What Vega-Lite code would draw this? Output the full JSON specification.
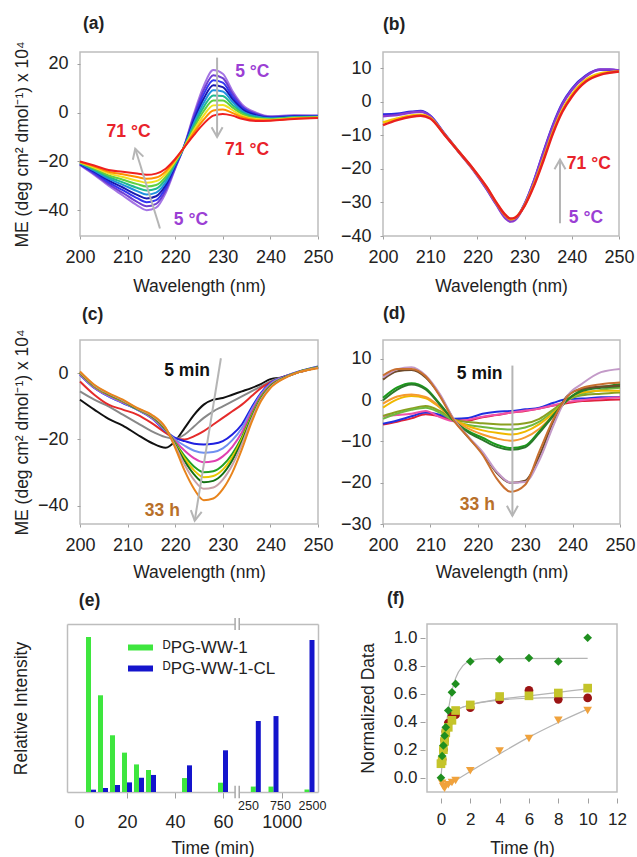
{
"$schema": "https://vega.github.io/schema/vega-lite/v6.json",
"autosize": {"type": "none"},
"padding": {"left": 80, "top": 52, "right": 557, "bottom": 805},
"config": {
  "font": "Liberation Sans",
  "view": {"stroke": "#bdbdbd", "strokeWidth": 1.5},
  "axis": {"grid": false, "domain": false, "tickColor": "#a0a0a0", "tickWidth": 1, "tickSize": 3, "labelFont": "Liberation Sans", "labelFontSize": 18, "labelColor": "#222222", "labelPadding": 9.5, "titleFont": "Liberation Sans", "titleFontSize": 17.5, "titleFontWeight": "normal", "titleColor": "#222222", "labelOverlap": false, "labelFlush": false},
  "axisY": {"labelPadding": 9},
  "line": {"strokeWidth": 2, "interpolate": "monotone"},
  "text": {"font": "Liberation Sans", "fontSize": 17.5, "fontWeight": "bold", "baseline": "middle", "align": "center"}
},
"spacing": 7,
"resolve": {"scale": {"color": "independent", "shape": "independent"}},
"vconcat": [
{"hconcat": [
 {
  "width": 238, "height": 184,
  "encoding": {
    "x": {"field": "w", "type": "quantitative", "scale": {"domain": [200, 250], "nice": false, "zero": false}, "axis": {"values": [200,210,220,230,240,250], "title": "Wavelength (nm)", "titleX": 119, "titleY": 55.3, "titleBaseline": "alphabetic", "titleAlign": "center"}},
    "y": {"field": "v", "type": "quantitative", "scale": {"domain": [-50.6, 24.9], "nice": false, "zero": false}, "axis": {"values": [-40,-20,0,20], "title": "ME (deg cm² dmol⁻¹) x 10⁴", "titleX": -53, "titleY": 92, "titleBaseline": "alphabetic", "titleAlign": "center", "titleAngle": 270}}
  },
  "layer": [
   {"data": {"values": [
{"c":"k0","w":200,"v":-21.5},{"c":"k0","w":203,"v":-25.5},{"c":"k0","w":206,"v":-30},{"c":"k0","w":209,"v":-34},{"c":"k0","w":212,"v":-38},{"c":"k0","w":214,"v":-40},{"c":"k0","w":216,"v":-39},{"c":"k0","w":218,"v":-33},{"c":"k0","w":220,"v":-23},{"c":"k0","w":222,"v":-13},{"c":"k0","w":224,"v":0},{"c":"k0","w":226,"v":11},{"c":"k0","w":228,"v":17.5},{"c":"k0","w":230,"v":16},{"c":"k0","w":232,"v":9},{"c":"k0","w":234,"v":3.5},{"c":"k0","w":237,"v":0},{"c":"k0","w":240,"v":-1.5},{"c":"k0","w":245,"v":-1.1},{"c":"k0","w":250,"v":-1.2},
{"c":"k1","w":200,"v":-21.3},{"c":"k1","w":203,"v":-25.1},{"c":"k1","w":206,"v":-29.3},{"c":"k1","w":209,"v":-32.9},{"c":"k1","w":212,"v":-36.6},{"c":"k1","w":214,"v":-38.4},{"c":"k1","w":216,"v":-37.4},{"c":"k1","w":218,"v":-31.9},{"c":"k1","w":220,"v":-22.6},{"c":"k1","w":222,"v":-13.1},{"c":"k1","w":224,"v":-1},{"c":"k1","w":226,"v":9.3},{"c":"k1","w":228,"v":15.4},{"c":"k1","w":230,"v":14.2},{"c":"k1","w":232,"v":7.9},{"c":"k1","w":234,"v":2.8},{"c":"k1","w":237,"v":-0.4},{"c":"k1","w":240,"v":-1.7},{"c":"k1","w":245,"v":-1.3},{"c":"k1","w":250,"v":-1.3},
{"c":"k2","w":200,"v":-21.2},{"c":"k2","w":203,"v":-24.7},{"c":"k2","w":206,"v":-28.6},{"c":"k2","w":209,"v":-31.8},{"c":"k2","w":212,"v":-35.1},{"c":"k2","w":214,"v":-36.8},{"c":"k2","w":216,"v":-35.9},{"c":"k2","w":218,"v":-30.8},{"c":"k2","w":220,"v":-22.1},{"c":"k2","w":222,"v":-13.2},{"c":"k2","w":224,"v":-2},{"c":"k2","w":226,"v":7.6},{"c":"k2","w":228,"v":13.3},{"c":"k2","w":230,"v":12.3},{"c":"k2","w":232,"v":6.7},{"c":"k2","w":234,"v":2.2},{"c":"k2","w":237,"v":-0.8},{"c":"k2","w":240,"v":-1.9},{"c":"k2","w":245,"v":-1.4},{"c":"k2","w":250,"v":-1.4},
{"c":"k3","w":200,"v":-21.0},{"c":"k3","w":203,"v":-24.2},{"c":"k3","w":206,"v":-27.8},{"c":"k3","w":209,"v":-30.7},{"c":"k3","w":212,"v":-33.7},{"c":"k3","w":214,"v":-35.2},{"c":"k3","w":216,"v":-34.3},{"c":"k3","w":218,"v":-29.7},{"c":"k3","w":220,"v":-21.7},{"c":"k3","w":222,"v":-13.3},{"c":"k3","w":224,"v":-3},{"c":"k3","w":226,"v":5.8},{"c":"k3","w":228,"v":11.3},{"c":"k3","w":230,"v":10.5},{"c":"k3","w":232,"v":5.6},{"c":"k3","w":234,"v":1.5},{"c":"k3","w":237,"v":-1.1},{"c":"k3","w":240,"v":-2.1},{"c":"k3","w":245,"v":-1.6},{"c":"k3","w":250,"v":-1.5},
{"c":"k4","w":200,"v":-20.8},{"c":"k4","w":203,"v":-23.8},{"c":"k4","w":206,"v":-27.1},{"c":"k4","w":209,"v":-29.6},{"c":"k4","w":212,"v":-32.2},{"c":"k4","w":214,"v":-33.6},{"c":"k4","w":216,"v":-32.8},{"c":"k4","w":218,"v":-28.6},{"c":"k4","w":220,"v":-21.2},{"c":"k4","w":222,"v":-13.4},{"c":"k4","w":224,"v":-4},{"c":"k4","w":226,"v":4.1},{"c":"k4","w":228,"v":9.2},{"c":"k4","w":230,"v":8.7},{"c":"k4","w":232,"v":4.5},{"c":"k4","w":234,"v":0.8},{"c":"k4","w":237,"v":-1.5},{"c":"k4","w":240,"v":-2.3},{"c":"k4","w":245,"v":-1.8},{"c":"k4","w":250,"v":-1.6},
{"c":"k5","w":200,"v":-20.7},{"c":"k5","w":203,"v":-23.4},{"c":"k5","w":206,"v":-26.4},{"c":"k5","w":209,"v":-28.6},{"c":"k5","w":212,"v":-30.8},{"c":"k5","w":214,"v":-31.9},{"c":"k5","w":216,"v":-31.2},{"c":"k5","w":218,"v":-27.4},{"c":"k5","w":220,"v":-20.8},{"c":"k5","w":222,"v":-13.6},{"c":"k5","w":224,"v":-5},{"c":"k5","w":226,"v":2.4},{"c":"k5","w":228,"v":7.1},{"c":"k5","w":230,"v":6.8},{"c":"k5","w":232,"v":3.3},{"c":"k5","w":234,"v":0.2},{"c":"k5","w":237,"v":-1.9},{"c":"k5","w":240,"v":-2.5},{"c":"k5","w":245,"v":-1.9},{"c":"k5","w":250,"v":-1.8},
{"c":"k6","w":200,"v":-20.5},{"c":"k6","w":203,"v":-23.0},{"c":"k6","w":206,"v":-25.7},{"c":"k6","w":209,"v":-27.5},{"c":"k6","w":212,"v":-29.3},{"c":"k6","w":214,"v":-30.3},{"c":"k6","w":216,"v":-29.7},{"c":"k6","w":218,"v":-26.3},{"c":"k6","w":220,"v":-20.3},{"c":"k6","w":222,"v":-13.7},{"c":"k6","w":224,"v":-6},{"c":"k6","w":226,"v":0.7},{"c":"k6","w":228,"v":5.0},{"c":"k6","w":230,"v":5.0},{"c":"k6","w":232,"v":2.2},{"c":"k6","w":234,"v":-0.5},{"c":"k6","w":237,"v":-2.3},{"c":"k6","w":240,"v":-2.7},{"c":"k6","w":245,"v":-2.1},{"c":"k6","w":250,"v":-1.9},
{"c":"k7","w":200,"v":-20.3},{"c":"k7","w":203,"v":-22.5},{"c":"k7","w":206,"v":-24.9},{"c":"k7","w":209,"v":-26.4},{"c":"k7","w":212,"v":-27.9},{"c":"k7","w":214,"v":-28.7},{"c":"k7","w":216,"v":-28.1},{"c":"k7","w":218,"v":-25.2},{"c":"k7","w":220,"v":-19.9},{"c":"k7","w":222,"v":-13.8},{"c":"k7","w":224,"v":-7},{"c":"k7","w":226,"v":-1.1},{"c":"k7","w":228,"v":3.0},{"c":"k7","w":230,"v":3.2},{"c":"k7","w":232,"v":1.1},{"c":"k7","w":234,"v":-1.2},{"c":"k7","w":237,"v":-2.6},{"c":"k7","w":240,"v":-2.9},{"c":"k7","w":245,"v":-2.3},{"c":"k7","w":250,"v":-2.0},
{"c":"k8","w":200,"v":-20.2},{"c":"k8","w":203,"v":-22.1},{"c":"k8","w":206,"v":-24.2},{"c":"k8","w":209,"v":-25.3},{"c":"k8","w":212,"v":-26.4},{"c":"k8","w":214,"v":-27.1},{"c":"k8","w":216,"v":-26.6},{"c":"k8","w":218,"v":-24.1},{"c":"k8","w":220,"v":-19.4},{"c":"k8","w":222,"v":-13.9},{"c":"k8","w":224,"v":-8},{"c":"k8","w":226,"v":-2.8},{"c":"k8","w":228,"v":0.9},{"c":"k8","w":230,"v":1.3},{"c":"k8","w":232,"v":-0.1},{"c":"k8","w":234,"v":-1.8},{"c":"k8","w":237,"v":-3.0},{"c":"k8","w":240,"v":-3.1},{"c":"k8","w":245,"v":-2.4},{"c":"k8","w":250,"v":-2.1},
{"c":"k9","w":200,"v":-20.0},{"c":"k9","w":203,"v":-21.7},{"c":"k9","w":206,"v":-23.5},{"c":"k9","w":209,"v":-24.2},{"c":"k9","w":212,"v":-25.0},{"c":"k9","w":214,"v":-25.5},{"c":"k9","w":216,"v":-25.0},{"c":"k9","w":218,"v":-23.0},{"c":"k9","w":220,"v":-19.0},{"c":"k9","w":222,"v":-14.0},{"c":"k9","w":224,"v":-9},{"c":"k9","w":226,"v":-4.5},{"c":"k9","w":228,"v":-1.2},{"c":"k9","w":230,"v":-0.5},{"c":"k9","w":232,"v":-1.2},{"c":"k9","w":234,"v":-2.5},{"c":"k9","w":237,"v":-3.4},{"c":"k9","w":240,"v":-3.3},{"c":"k9","w":245,"v":-2.6},{"c":"k9","w":250,"v":-2.2}
   ]},
    "mark": {"type": "line"},
    "encoding": {"color": {"field": "c", "type": "nominal", "legend": null, "scale": {"domain": ["k0","k1","k2","k3","k4","k5","k6","k7","k8","k9"], "range": ["#a474e4","#6f3fd2","#3434f0","#1818b0","#2090e0","#20b890","#60d040","#f0e020","#ff9000","#ee2020"]}}}
   },
   {"data": {"values": [{"w":228.8,"v":22.6,"w2":228.8,"v2":-10},{"w":216.8,"v":-47.5,"w2":211.6,"v2":-14.8}]},
    "mark": {"type": "rule", "color": "#b5b5b5", "strokeWidth": 2},
    "encoding": {"x2": {"field": "w2"}, "y2": {"field": "v2"}}},
   {"data": {"values": [{"w":228.8,"v":-10}]},
    "mark": {"type": "point", "shape": "M-1,1.8L0,0L1,1.8", "size": 121, "filled": false, "color": "#b5b5b5", "strokeWidth": 2, "opacity": 1, "angle": 180}},
   {"data": {"values": [{"w":211.6,"v":-14.8}]},
    "mark": {"type": "point", "shape": "M-1,1.8L0,0L1,1.8", "size": 121, "filled": false, "color": "#b5b5b5", "strokeWidth": 2, "opacity": 1, "angle": 343}},
   {"data": {"values": [{"w":236.2,"v":16.5,"t":"5 °C"},{"w":223.3,"v":-44,"t":"5 °C"}]},
    "mark": {"type": "text", "color": "#9b3fd4"}, "encoding": {"text": {"field": "t"}}},
   {"data": {"values": [{"w":210.2,"v":-8,"t":"71 °C"},{"w":235.1,"v":-15.5,"t":"71 °C"}]},
    "mark": {"type": "text", "color": "#e8232b"}, "encoding": {"text": {"field": "t"}}},
   {"data": {"values": [{"w":200.63,"v":34.2,"lab":"(a)"}]},
    "mark": {"type": "text", "color": "#222222", "align": "left", "baseline": "alphabetic"}, "encoding": {"text": {"field": "lab"}}}
  ]
 },
 {
  "width": 236, "height": 184,
  "encoding": {
    "x": {"field": "w", "type": "quantitative", "scale": {"domain": [200, 250], "nice": false, "zero": false}, "axis": {"values": [200,210,220,230,240,250], "title": "Wavelength (nm)", "titleX": 118, "titleY": 55.3, "titleBaseline": "alphabetic", "titleAlign": "center"}},
    "y": {"field": "v", "type": "quantitative", "scale": {"domain": [-40, 14.8], "nice": false, "zero": false}, "axis": {"values": [-40,-30,-20,-10,0,10], "title": null}}
  },
  "layer": [
   {"data": {"values": [
{"c":"b0","w":200,"v":-3.8},{"c":"b0","w":203,"v":-3.6},{"c":"b0","w":206,"v":-3.0},{"c":"b0","w":208,"v":-2.8},{"c":"b0","w":210,"v":-4.2},{"c":"b0","w":213,"v":-9.5},{"c":"b0","w":216,"v":-14.8},{"c":"b0","w":219,"v":-20.0},{"c":"b0","w":222,"v":-26.0},{"c":"b0","w":224,"v":-30.5},{"c":"b0","w":226,"v":-34.5},{"c":"b0","w":227,"v":-35.5},{"c":"b0","w":228,"v":-35.0},{"c":"b0","w":230,"v":-30.5},{"c":"b0","w":232,"v":-23.5},{"c":"b0","w":234,"v":-15.0},{"c":"b0","w":236,"v":-7.0},{"c":"b0","w":238,"v":-0.5},{"c":"b0","w":240,"v":3.8},{"c":"b0","w":243,"v":7.8},{"c":"b0","w":246,"v":9.5},{"c":"b0","w":248,"v":9.5},{"c":"b0","w":250,"v":9.2},
{"c":"b1","w":200,"v":-4.3},{"c":"b1","w":203,"v":-4.0},{"c":"b1","w":206,"v":-3.2},{"c":"b1","w":208,"v":-3.0},{"c":"b1","w":210,"v":-4.3},{"c":"b1","w":213,"v":-9.6},{"c":"b1","w":216,"v":-14.9},{"c":"b1","w":219,"v":-20.1},{"c":"b1","w":222,"v":-26.1},{"c":"b1","w":224,"v":-30.6},{"c":"b1","w":226,"v":-34.8},{"c":"b1","w":227,"v":-35.7},{"c":"b1","w":228,"v":-35.2},{"c":"b1","w":230,"v":-30.6},{"c":"b1","w":232,"v":-23.6},{"c":"b1","w":234,"v":-15.2},{"c":"b1","w":236,"v":-7.3},{"c":"b1","w":238,"v":-0.8},{"c":"b1","w":240,"v":3.5},{"c":"b1","w":243,"v":7.6},{"c":"b1","w":246,"v":9.6},{"c":"b1","w":248,"v":9.6},{"c":"b1","w":250,"v":9.3},
{"c":"b2","w":200,"v":-6.2},{"c":"b2","w":203,"v":-5.0},{"c":"b2","w":206,"v":-4.1},{"c":"b2","w":208,"v":-3.9},{"c":"b2","w":210,"v":-4.8},{"c":"b2","w":213,"v":-9.7},{"c":"b2","w":216,"v":-14.8},{"c":"b2","w":219,"v":-19.9},{"c":"b2","w":222,"v":-25.6},{"c":"b2","w":224,"v":-30.1},{"c":"b2","w":226,"v":-34.0},{"c":"b2","w":227,"v":-35.0},{"c":"b2","w":228,"v":-34.6},{"c":"b2","w":230,"v":-30.9},{"c":"b2","w":232,"v":-24.6},{"c":"b2","w":234,"v":-16.9},{"c":"b2","w":236,"v":-8.9},{"c":"b2","w":238,"v":-2.4},{"c":"b2","w":240,"v":2.1},{"c":"b2","w":243,"v":6.5},{"c":"b2","w":246,"v":8.4},{"c":"b2","w":248,"v":8.8},{"c":"b2","w":250,"v":9.0},
{"c":"b3","w":200,"v":-7.0},{"c":"b3","w":203,"v":-5.5},{"c":"b3","w":206,"v":-4.5},{"c":"b3","w":208,"v":-4.2},{"c":"b3","w":210,"v":-5.0},{"c":"b3","w":213,"v":-9.8},{"c":"b3","w":216,"v":-14.8},{"c":"b3","w":219,"v":-19.8},{"c":"b3","w":222,"v":-25.5},{"c":"b3","w":224,"v":-30.0},{"c":"b3","w":226,"v":-33.8},{"c":"b3","w":227,"v":-34.8},{"c":"b3","w":228,"v":-34.5},{"c":"b3","w":230,"v":-31.0},{"c":"b3","w":232,"v":-25.0},{"c":"b3","w":234,"v":-17.5},{"c":"b3","w":236,"v":-9.5},{"c":"b3","w":238,"v":-3.0},{"c":"b3","w":240,"v":1.5},{"c":"b3","w":243,"v":6.0},{"c":"b3","w":246,"v":8.0},{"c":"b3","w":248,"v":8.6},{"c":"b3","w":250,"v":9.0}
   ]},
    "mark": {"type": "line", "strokeWidth": 2.5},
    "encoding": {"color": {"field": "c", "type": "nominal", "legend": null, "scale": {"domain": ["b0","b1","b2","b3"], "range": ["#2a2ae0","#8a3ad0","#f5c800","#e82020"]}}}
   },
   {"data": {"values": [{"w":237.5,"v":-36.2,"w2":237.5,"v2":-17.2}]},
    "mark": {"type": "rule", "color": "#b5b5b5", "strokeWidth": 2},
    "encoding": {"x2": {"field": "w2"}, "y2": {"field": "v2"}}},
   {"data": {"values": [{"w":237.5,"v":-17.2}]},
    "mark": {"type": "point", "shape": "M-1,1.8L0,0L1,1.8", "size": 121, "filled": false, "color": "#b5b5b5", "strokeWidth": 2, "opacity": 1, "angle": 0}},
   {"data": {"values": [{"w":243.6,"v":-18.7,"t":"71 °C"}]},
    "mark": {"type": "text", "color": "#e8232b"}, "encoding": {"text": {"field": "t"}}},
   {"data": {"values": [{"w":243,"v":-34.7,"t":"5 °C"}]},
    "mark": {"type": "text", "color": "#9b3fd4"}, "encoding": {"text": {"field": "t"}}},
   {"data": {"values": [{"w":200,"v":21.35,"lab":"(b)"}]},
    "mark": {"type": "text", "color": "#222222", "align": "left", "baseline": "alphabetic"}, "encoding": {"text": {"field": "lab"}}}
  ]
 }
], "spacing": 65, "bounds": "flush", "resolve": {"scale": {"color": "independent"}}},
{"hconcat": [
 {
  "width": 238, "height": 184,
  "encoding": {
    "x": {"field": "w", "type": "quantitative", "scale": {"domain": [200, 250], "nice": false, "zero": false}, "axis": {"values": [200,210,220,230,240,250], "title": "Wavelength (nm)", "titleX": 119, "titleY": 53.5, "titleBaseline": "alphabetic", "titleAlign": "center"}},
    "y": {"field": "v", "type": "quantitative", "scale": {"domain": [-45.5, 10], "nice": false, "zero": false}, "axis": {"values": [-40,-20,0], "title": "ME (deg cm² dmol⁻¹) x 10⁴", "titleX": -53, "titleY": 92, "titleBaseline": "alphabetic", "titleAlign": "center", "titleAngle": 270}}
  },
  "layer": [
   {"data": {"values": [
{"c":"c00","w":200,"v":-8},{"c":"c00","w":203,"v":-11},{"c":"c00","w":206,"v":-13.8},{"c":"c00","w":209,"v":-15.8},{"c":"c00","w":212,"v":-18.5},{"c":"c00","w":215,"v":-21},{"c":"c00","w":218,"v":-22.5},{"c":"c00","w":220,"v":-20.5},{"c":"c00","w":222,"v":-16.5},{"c":"c00","w":224,"v":-12.5},{"c":"c00","w":226,"v":-9.5},{"c":"c00","w":228,"v":-8},{"c":"c00","w":230,"v":-7.5},{"c":"c00","w":232,"v":-6.5},{"c":"c00","w":234,"v":-5.5},{"c":"c00","w":236,"v":-4.5},{"c":"c00","w":238,"v":-3.3},{"c":"c00","w":240,"v":-1.8},{"c":"c00","w":243,"v":-1.2},{"c":"c00","w":246,"v":0.3},{"c":"c00","w":250,"v":1.8},
{"c":"c01","w":200,"v":-5.5},{"c":"c01","w":203,"v":-8},{"c":"c01","w":206,"v":-10},{"c":"c01","w":209,"v":-12.5},{"c":"c01","w":212,"v":-15},{"c":"c01","w":215,"v":-17.5},{"c":"c01","w":218,"v":-19.3},{"c":"c01","w":220,"v":-19.8},{"c":"c01","w":222,"v":-18.5},{"c":"c01","w":224,"v":-16},{"c":"c01","w":226,"v":-13.5},{"c":"c01","w":228,"v":-11.5},{"c":"c01","w":230,"v":-10},{"c":"c01","w":232,"v":-8.5},{"c":"c01","w":234,"v":-7},{"c":"c01","w":236,"v":-5.5},{"c":"c01","w":238,"v":-4},{"c":"c01","w":240,"v":-2.5},{"c":"c01","w":243,"v":-1},{"c":"c01","w":246,"v":0.3},{"c":"c01","w":250,"v":1.8},
{"c":"c02","w":200,"v":-2.5},{"c":"c02","w":203,"v":-6.5},{"c":"c02","w":206,"v":-9.5},{"c":"c02","w":209,"v":-11},{"c":"c02","w":212,"v":-12.5},{"c":"c02","w":215,"v":-15},{"c":"c02","w":218,"v":-18},{"c":"c02","w":220,"v":-19.8},{"c":"c02","w":222,"v":-20},{"c":"c02","w":224,"v":-19},{"c":"c02","w":226,"v":-17.5},{"c":"c02","w":228,"v":-15.5},{"c":"c02","w":230,"v":-13.5},{"c":"c02","w":232,"v":-11.5},{"c":"c02","w":234,"v":-9.5},{"c":"c02","w":236,"v":-7},{"c":"c02","w":238,"v":-4.5},{"c":"c02","w":240,"v":-2.8},{"c":"c02","w":243,"v":-1},{"c":"c02","w":246,"v":0.3},{"c":"c02","w":250,"v":1.8},
{"c":"c03","w":200,"v":-0.5},{"c":"c03","w":203,"v":-4.5},{"c":"c03","w":206,"v":-7},{"c":"c03","w":209,"v":-9},{"c":"c03","w":212,"v":-11},{"c":"c03","w":215,"v":-13.5},{"c":"c03","w":218,"v":-17.5},{"c":"c03","w":220,"v":-19.5},{"c":"c03","w":222,"v":-20.5},{"c":"c03","w":224,"v":-21.3},{"c":"c03","w":226,"v":-21.5},{"c":"c03","w":228,"v":-21.3},{"c":"c03","w":230,"v":-20.5},{"c":"c03","w":232,"v":-18.5},{"c":"c03","w":234,"v":-15.5},{"c":"c03","w":236,"v":-10.5},{"c":"c03","w":238,"v":-6},{"c":"c03","w":240,"v":-3},{"c":"c03","w":243,"v":-1},{"c":"c03","w":246,"v":0.5},{"c":"c03","w":250,"v":2},
{"c":"c04","w":200,"v":-0.4},{"c":"c04","w":203,"v":-4.4},{"c":"c04","w":206,"v":-6.9},{"c":"c04","w":209,"v":-8.9},{"c":"c04","w":212,"v":-10.9},{"c":"c04","w":215,"v":-13.4},{"c":"c04","w":218,"v":-17.4},{"c":"c04","w":220,"v":-20.0},{"c":"c04","w":222,"v":-21.9},{"c":"c04","w":224,"v":-23.4},{"c":"c04","w":226,"v":-24.0},{"c":"c04","w":228,"v":-23.8},{"c":"c04","w":230,"v":-22.7},{"c":"c04","w":232,"v":-20.2},{"c":"c04","w":234,"v":-16.6},{"c":"c04","w":236,"v":-11.2},{"c":"c04","w":238,"v":-6.4},{"c":"c04","w":240,"v":-3.2},{"c":"c04","w":243,"v":-1.1},{"c":"c04","w":246,"v":0.5},{"c":"c04","w":250,"v":1.9},
{"c":"c05","w":200,"v":-0.2},{"c":"c05","w":203,"v":-4.2},{"c":"c05","w":206,"v":-6.7},{"c":"c05","w":209,"v":-8.7},{"c":"c05","w":212,"v":-10.8},{"c":"c05","w":215,"v":-13.2},{"c":"c05","w":218,"v":-17.2},{"c":"c05","w":220,"v":-20.5},{"c":"c05","w":222,"v":-23.4},{"c":"c05","w":224,"v":-25.7},{"c":"c05","w":226,"v":-26.9},{"c":"c05","w":228,"v":-26.6},{"c":"c05","w":230,"v":-25.1},{"c":"c05","w":232,"v":-22.2},{"c":"c05","w":234,"v":-17.9},{"c":"c05","w":236,"v":-11.9},{"c":"c05","w":238,"v":-6.8},{"c":"c05","w":240,"v":-3.5},{"c":"c05","w":243,"v":-1.2},{"c":"c05","w":246,"v":0.4},{"c":"c05","w":250,"v":1.8},
{"c":"c06","w":200,"v":0},{"c":"c06","w":203,"v":-4},{"c":"c06","w":206,"v":-6.5},{"c":"c06","w":209,"v":-8.5},{"c":"c06","w":212,"v":-10.8},{"c":"c06","w":215,"v":-13},{"c":"c06","w":218,"v":-17},{"c":"c06","w":220,"v":-21},{"c":"c06","w":222,"v":-25},{"c":"c06","w":224,"v":-28.2},{"c":"c06","w":226,"v":-29.9},{"c":"c06","w":228,"v":-29.6},{"c":"c06","w":230,"v":-27.8},{"c":"c06","w":232,"v":-24.3},{"c":"c06","w":234,"v":-19.3},{"c":"c06","w":236,"v":-12.8},{"c":"c06","w":238,"v":-7.3},{"c":"c06","w":240,"v":-3.8},{"c":"c06","w":243,"v":-1.3},{"c":"c06","w":246,"v":0.4},{"c":"c06","w":250,"v":1.8},
{"c":"c07","w":200,"v":0.1},{"c":"c07","w":203,"v":-3.9},{"c":"c07","w":206,"v":-6.4},{"c":"c07","w":209,"v":-8.4},{"c":"c07","w":212,"v":-10.7},{"c":"c07","w":215,"v":-12.9},{"c":"c07","w":218,"v":-16.9},{"c":"c07","w":220,"v":-21.3},{"c":"c07","w":222,"v":-25.8},{"c":"c07","w":224,"v":-29.4},{"c":"c07","w":226,"v":-31.4},{"c":"c07","w":228,"v":-31.0},{"c":"c07","w":230,"v":-29.1},{"c":"c07","w":232,"v":-25.3},{"c":"c07","w":234,"v":-19.9},{"c":"c07","w":236,"v":-13.2},{"c":"c07","w":238,"v":-7.5},{"c":"c07","w":240,"v":-3.9},{"c":"c07","w":243,"v":-1.3},{"c":"c07","w":246,"v":0.4},{"c":"c07","w":250,"v":1.7},
{"c":"c08","w":200,"v":0.2},{"c":"c08","w":203,"v":-3.8},{"c":"c08","w":206,"v":-6.3},{"c":"c08","w":209,"v":-8.3},{"c":"c08","w":212,"v":-10.7},{"c":"c08","w":215,"v":-12.8},{"c":"c08","w":218,"v":-16.8},{"c":"c08","w":220,"v":-21.5},{"c":"c08","w":222,"v":-26.6},{"c":"c08","w":224,"v":-30.6},{"c":"c08","w":226,"v":-32.9},{"c":"c08","w":228,"v":-32.5},{"c":"c08","w":230,"v":-30.4},{"c":"c08","w":232,"v":-26.3},{"c":"c08","w":234,"v":-20.6},{"c":"c08","w":236,"v":-13.6},{"c":"c08","w":238,"v":-7.7},{"c":"c08","w":240,"v":-4.0},{"c":"c08","w":243,"v":-1.3},{"c":"c08","w":246,"v":0.4},{"c":"c08","w":250,"v":1.7},
{"c":"c09","w":200,"v":0.3},{"c":"c09","w":203,"v":-3.7},{"c":"c09","w":206,"v":-6.2},{"c":"c09","w":209,"v":-8.2},{"c":"c09","w":212,"v":-10.6},{"c":"c09","w":215,"v":-12.7},{"c":"c09","w":218,"v":-16.7},{"c":"c09","w":220,"v":-21.9},{"c":"c09","w":222,"v":-27.7},{"c":"c09","w":224,"v":-32.3},{"c":"c09","w":226,"v":-34.9},{"c":"c09","w":228,"v":-34.5},{"c":"c09","w":230,"v":-32.1},{"c":"c09","w":232,"v":-27.7},{"c":"c09","w":234,"v":-21.5},{"c":"c09","w":236,"v":-14.1},{"c":"c09","w":238,"v":-8.0},{"c":"c09","w":240,"v":-4.2},{"c":"c09","w":243,"v":-1.4},{"c":"c09","w":246,"v":0.3},{"c":"c09","w":250,"v":1.6},
{"c":"c10","w":200,"v":0.5},{"c":"c10","w":203,"v":-3.5},{"c":"c10","w":206,"v":-6},{"c":"c10","w":209,"v":-8},{"c":"c10","w":212,"v":-10.5},{"c":"c10","w":215,"v":-12.5},{"c":"c10","w":218,"v":-16.5},{"c":"c10","w":220,"v":-22.5},{"c":"c10","w":222,"v":-29.5},{"c":"c10","w":224,"v":-35},{"c":"c10","w":226,"v":-38.3},{"c":"c10","w":228,"v":-37.8},{"c":"c10","w":230,"v":-35},{"c":"c10","w":232,"v":-30},{"c":"c10","w":234,"v":-23},{"c":"c10","w":236,"v":-15},{"c":"c10","w":238,"v":-8.5},{"c":"c10","w":240,"v":-4.5},{"c":"c10","w":243,"v":-1.5},{"c":"c10","w":246,"v":0.3},{"c":"c10","w":250,"v":1.5}
   ]},
    "mark": {"type": "line"},
    "encoding": {"color": {"field": "c", "type": "nominal", "legend": null, "scale": {"domain": ["c00","c01","c02","c03","c04","c05","c06","c07","c08","c09","c10"], "range": ["#111111","#888888","#e52b2b","#2020e0","#7090f0","#e040b0","#22a022","#e8c800","#137013","#c8a0a8","#e8841c"]}}}
   },
   {"data": {"values": [{"w":229.6,"v":4.5,"w2":224.1,"v2":-44.5}]},
    "mark": {"type": "rule", "color": "#b5b5b5", "strokeWidth": 2},
    "encoding": {"x2": {"field": "w2"}, "y2": {"field": "v2"}}},
   {"data": {"values": [{"w":224.1,"v":-44.5}]},
    "mark": {"type": "point", "shape": "M-1,1.8L0,0L1,1.8", "size": 121, "filled": false, "color": "#b5b5b5", "strokeWidth": 2, "opacity": 1, "angle": 189}},
   {"data": {"values": [{"w":222.5,"v":0.5,"t":"5 min"}]},
    "mark": {"type": "text", "color": "#111111"}, "encoding": {"text": {"field": "t"}}},
   {"data": {"values": [{"w":217.3,"v":-41.5,"t":"33 h"}]},
    "mark": {"type": "text", "color": "#b8702a"}, "encoding": {"text": {"field": "t"}}},
   {"data": {"values": [{"w":200.42,"v":16.03,"lab":"(c)"}]},
    "mark": {"type": "text", "color": "#222222", "align": "left", "baseline": "alphabetic"}, "encoding": {"text": {"field": "lab"}}}
  ]
 },
 {
  "width": 237, "height": 184,
  "encoding": {
    "x": {"field": "w", "type": "quantitative", "scale": {"domain": [200, 250], "nice": false, "zero": false}, "axis": {"values": [200,210,220,230,240,250], "title": "Wavelength (nm)", "titleX": 118.5, "titleY": 53.5, "titleBaseline": "alphabetic", "titleAlign": "center"}},
    "y": {"field": "v", "type": "quantitative", "scale": {"domain": [-30, 14.6], "nice": false, "zero": false}, "axis": {"values": [-30,-20,-10,0,10], "title": null}}
  },
  "layer": [
   {"data": {"values": [
{"c":"d00","w":200,"v":-5.9},{"c":"d00","w":203,"v":-5.2},{"c":"d00","w":206,"v":-4.4},{"c":"d00","w":209,"v":-3.4},{"c":"d00","w":212,"v":-3.9},{"c":"d00","w":215,"v":-4.8},{"c":"d00","w":218,"v":-4.9},{"c":"d00","w":221,"v":-4.1},{"c":"d00","w":224,"v":-3.6},{"c":"d00","w":227,"v":-3.0},{"c":"d00","w":230,"v":-2.6},{"c":"d00","w":233,"v":-2.0},{"c":"d00","w":236,"v":-1.3},{"c":"d00","w":239,"v":-0.7},{"c":"d00","w":242,"v":-0.2},{"c":"d00","w":246,"v":0.0},{"c":"d00","w":250,"v":0.2},
{"c":"d01","w":200,"v":-5.7},{"c":"d01","w":203,"v":-4.9},{"c":"d01","w":206,"v":-3.9},{"c":"d01","w":209,"v":-3.0},{"c":"d01","w":212,"v":-3.5},{"c":"d01","w":215,"v":-4.5},{"c":"d01","w":218,"v":-4.3},{"c":"d01","w":221,"v":-3.3},{"c":"d01","w":224,"v":-2.8},{"c":"d01","w":227,"v":-2.6},{"c":"d01","w":230,"v":-2.2},{"c":"d01","w":233,"v":-1.8},{"c":"d01","w":236,"v":-0.6},{"c":"d01","w":239,"v":0.3},{"c":"d01","w":242,"v":0.4},{"c":"d01","w":246,"v":0.7},{"c":"d01","w":250,"v":0.8},
{"c":"d02","w":200,"v":-3.8},{"c":"d02","w":203,"v":-3.6},{"c":"d02","w":206,"v":-3.3},{"c":"d02","w":209,"v":-2.6},{"c":"d02","w":212,"v":-4.1},{"c":"d02","w":215,"v":-5.1},{"c":"d02","w":218,"v":-4.7},{"c":"d02","w":221,"v":-4.0},{"c":"d02","w":224,"v":-3.5},{"c":"d02","w":227,"v":-3.0},{"c":"d02","w":230,"v":-2.5},{"c":"d02","w":233,"v":-2.0},{"c":"d02","w":236,"v":-1.2},{"c":"d02","w":239,"v":-0.4},{"c":"d02","w":242,"v":0.0},{"c":"d02","w":246,"v":0.4},{"c":"d02","w":250,"v":0.7},
{"c":"d03","w":200,"v":-3.8},{"c":"d03","w":203,"v":-2.8},{"c":"d03","w":206,"v":-2.0},{"c":"d03","w":209,"v":-1.4},{"c":"d03","w":212,"v":-2.6},{"c":"d03","w":215,"v":-4.7},{"c":"d03","w":218,"v":-5.3},{"c":"d03","w":221,"v":-5.6},{"c":"d03","w":224,"v":-5.8},{"c":"d03","w":227,"v":-5.9},{"c":"d03","w":230,"v":-5.6},{"c":"d03","w":233,"v":-4.5},{"c":"d03","w":236,"v":-2.2},{"c":"d03","w":239,"v":0.2},{"c":"d03","w":242,"v":1.2},{"c":"d03","w":246,"v":1.6},{"c":"d03","w":250,"v":1.9},
{"c":"d04","w":200,"v":-4.5},{"c":"d04","w":203,"v":-3.2},{"c":"d04","w":206,"v":-2.3},{"c":"d04","w":209,"v":-1.8},{"c":"d04","w":212,"v":-3.0},{"c":"d04","w":215,"v":-5.0},{"c":"d04","w":218,"v":-6.0},{"c":"d04","w":221,"v":-6.5},{"c":"d04","w":224,"v":-6.9},{"c":"d04","w":227,"v":-7.1},{"c":"d04","w":230,"v":-6.6},{"c":"d04","w":233,"v":-5.2},{"c":"d04","w":236,"v":-2.6},{"c":"d04","w":239,"v":0.0},{"c":"d04","w":242,"v":1.5},{"c":"d04","w":246,"v":2.5},{"c":"d04","w":250,"v":3.0},
{"c":"d05","w":200,"v":-1.8},{"c":"d05","w":203,"v":0.2},{"c":"d05","w":206,"v":1.0},{"c":"d05","w":209,"v":0.5},{"c":"d05","w":212,"v":-1.8},{"c":"d05","w":215,"v":-4.7},{"c":"d05","w":218,"v":-6.3},{"c":"d05","w":221,"v":-7.3},{"c":"d05","w":224,"v":-7.9},{"c":"d05","w":227,"v":-8.3},{"c":"d05","w":230,"v":-7.6},{"c":"d05","w":233,"v":-5.8},{"c":"d05","w":236,"v":-3.0},{"c":"d05","w":239,"v":0.2},{"c":"d05","w":242,"v":1.9},{"c":"d05","w":246,"v":2.3},{"c":"d05","w":250,"v":2.3},
{"c":"d06","w":200,"v":-0.8},{"c":"d06","w":203,"v":0.9},{"c":"d06","w":206,"v":1.4},{"c":"d06","w":209,"v":0.8},{"c":"d06","w":212,"v":-1.6},{"c":"d06","w":215,"v":-4.8},{"c":"d06","w":218,"v":-6.9},{"c":"d06","w":221,"v":-8.3},{"c":"d06","w":224,"v":-9.3},{"c":"d06","w":227,"v":-9.8},{"c":"d06","w":230,"v":-9.0},{"c":"d06","w":233,"v":-6.9},{"c":"d06","w":236,"v":-3.5},{"c":"d06","w":239,"v":0.0},{"c":"d06","w":242,"v":2.5},{"c":"d06","w":246,"v":3.2},{"c":"d06","w":250,"v":3.4},
{"c":"d07","w":200,"v":0.6},{"c":"d07","w":203,"v":3.1},{"c":"d07","w":206,"v":4.1},{"c":"d07","w":209,"v":2.9},{"c":"d07","w":212,"v":-0.9},{"c":"d07","w":215,"v":-5.0},{"c":"d07","w":218,"v":-7.5},{"c":"d07","w":221,"v":-9.1},{"c":"d07","w":224,"v":-10.8},{"c":"d07","w":227,"v":-11.6},{"c":"d07","w":230,"v":-11.0},{"c":"d07","w":233,"v":-7.5},{"c":"d07","w":236,"v":-3.5},{"c":"d07","w":239,"v":0.3},{"c":"d07","w":242,"v":2.4},{"c":"d07","w":246,"v":3.2},{"c":"d07","w":250,"v":3.9},
{"c":"d08","w":200,"v":0.0},{"c":"d08","w":203,"v":2.6},{"c":"d08","w":206,"v":3.8},{"c":"d08","w":209,"v":2.6},{"c":"d08","w":212,"v":-1.1},{"c":"d08","w":215,"v":-5.1},{"c":"d08","w":218,"v":-7.8},{"c":"d08","w":221,"v":-9.6},{"c":"d08","w":224,"v":-11.3},{"c":"d08","w":227,"v":-12.0},{"c":"d08","w":230,"v":-11.4},{"c":"d08","w":233,"v":-7.9},{"c":"d08","w":236,"v":-3.7},{"c":"d08","w":239,"v":0.1},{"c":"d08","w":242,"v":2.2},{"c":"d08","w":246,"v":3.0},{"c":"d08","w":250,"v":3.4},
{"c":"d09","w":200,"v":5.0},{"c":"d09","w":203,"v":7.0},{"c":"d09","w":206,"v":7.3},{"c":"d09","w":209,"v":5.5},{"c":"d09","w":212,"v":1.2},{"c":"d09","w":215,"v":-4.8},{"c":"d09","w":218,"v":-9.0},{"c":"d09","w":221,"v":-12.8},{"c":"d09","w":224,"v":-17.6},{"c":"d09","w":227,"v":-20.0},{"c":"d09","w":230,"v":-19.5},{"c":"d09","w":233,"v":-13.5},{"c":"d09","w":236,"v":-5.0},{"c":"d09","w":239,"v":1.2},{"c":"d09","w":242,"v":2.8},{"c":"d09","w":246,"v":3.3},{"c":"d09","w":250,"v":3.6},
{"c":"d10","w":200,"v":5.5},{"c":"d10","w":203,"v":7.5},{"c":"d10","w":206,"v":8.0},{"c":"d10","w":209,"v":6.0},{"c":"d10","w":212,"v":1.5},{"c":"d10","w":215,"v":-4.7},{"c":"d10","w":218,"v":-8.8},{"c":"d10","w":221,"v":-12.5},{"c":"d10","w":224,"v":-17.3},{"c":"d10","w":227,"v":-20.0},{"c":"d10","w":230,"v":-19.8},{"c":"d10","w":233,"v":-14.5},{"c":"d10","w":236,"v":-6.0},{"c":"d10","w":239,"v":1.2},{"c":"d10","w":242,"v":4.0},{"c":"d10","w":246,"v":6.8},{"c":"d10","w":250,"v":7.6},
{"c":"d11","w":200,"v":6.0},{"c":"d11","w":203,"v":7.6},{"c":"d11","w":206,"v":7.6},{"c":"d11","w":209,"v":5.8},{"c":"d11","w":212,"v":1.0},{"c":"d11","w":215,"v":-5.0},{"c":"d11","w":218,"v":-9.0},{"c":"d11","w":221,"v":-13.2},{"c":"d11","w":224,"v":-19.0},{"c":"d11","w":227,"v":-22.2},{"c":"d11","w":230,"v":-20.5},{"c":"d11","w":233,"v":-12.4},{"c":"d11","w":236,"v":-4.5},{"c":"d11","w":239,"v":1.0},{"c":"d11","w":242,"v":3.0},{"c":"d11","w":246,"v":3.9},{"c":"d11","w":250,"v":4.3}
   ]},
    "mark": {"type": "line"},
    "encoding": {"color": {"field": "c", "type": "nominal", "legend": null, "scale": {"domain": ["d00","d01","d02","d03","d04","d05","d06","d07","d08","d09","d10","d11"], "range": ["#e0203a","#2030e0","#f050a8","#8aa020","#70b840","#f0b800","#f59a30","#1a9a1a","#2a7a2a","#6e4a2a","#c39ac8","#c87030"]}}}
   },
   {"data": {"values": [{"w":227.3,"v":8.4,"w2":227.3,"v2":-28}]},
    "mark": {"type": "rule", "color": "#b5b5b5", "strokeWidth": 2},
    "encoding": {"x2": {"field": "w2"}, "y2": {"field": "v2"}}},
   {"data": {"values": [{"w":227.3,"v":-28}]},
    "mark": {"type": "point", "shape": "M-1,1.8L0,0L1,1.8", "size": 121, "filled": false, "color": "#b5b5b5", "strokeWidth": 2, "opacity": 1, "angle": 180}},
   {"data": {"values": [{"w":220.4,"v":6.4,"t":"5 min"}]},
    "mark": {"type": "text", "color": "#111111"}, "encoding": {"text": {"field": "t"}}},
   {"data": {"values": [{"w":219.9,"v":-25.5,"t":"33 h"}]},
    "mark": {"type": "text", "color": "#b8702a"}, "encoding": {"text": {"field": "t"}}},
   {"data": {"values": [{"w":200,"v":19.8,"lab":"(d)"}]},
    "mark": {"type": "text", "color": "#222222", "align": "left", "baseline": "alphabetic"}, "encoding": {"text": {"field": "lab"}}}
  ]
 }
], "spacing": 65, "bounds": "flush", "resolve": {"scale": {"color": "independent"}}},
{"hconcat": [
 {
  "width": 238, "height": 168,
  "view": {"stroke": null},
  "layer": [
   {"data": {"values": [
{"s":"ᴰPG-WW-1","t":5,"v":100},{"s":"ᴰPG-WW-1","t":10,"v":62.4},{"s":"ᴰPG-WW-1","t":15,"v":36.6},{"s":"ᴰPG-WW-1","t":20,"v":25.4},{"s":"ᴰPG-WW-1","t":25,"v":17.8},{"s":"ᴰPG-WW-1","t":30,"v":14.2},{"s":"ᴰPG-WW-1","t":45,"v":9.0},{"s":"ᴰPG-WW-1","t":60,"v":6.0},{"s":"ᴰPG-WW-1","t":250,"v":3.5},{"s":"ᴰPG-WW-1","t":750,"v":3.5},{"s":"ᴰPG-WW-1","t":2500,"v":1.6}
   ]},
    "mark": {"type": "bar", "width": 5, "xOffset": -2.5, "orient": "vertical"},
    "encoding": {
      "x": {"field": "t", "type": "quantitative", "scale": {"type": "linear", "domain": [-5, 0, 60, 250, 750, 2500, 2913], "range": [-13, -1, 143, 175.8, 193.5, 229.5, 238], "nice": false, "zero": false},
        "axis": {"orient": "bottom", "domain": true, "domainColor": "#bdbdbd", "domainWidth": 1.5, "values": [0,20,40,60,250,750,1150,2500], "format": "d", "labelExpr": "datum.value == 1150 ? '1000' : datum.label",
          "labelFontSize": {"condition": {"test": "datum.value == 250 || datum.value == 750 || datum.value == 2500", "value": 12.5}, "value": 18},
          "labelPadding": {"condition": {"test": "datum.value == 250 || datum.value == 750 || datum.value == 2500", "value": 1.5}, "value": 15},
          "labelOffset": {"condition": [{"test": "datum.value == 250", "value": -7.8}, {"test": "datum.value == 750", "value": 6.5}, {"test": "datum.value == 2500", "value": 2.5}], "value": 0},
          "tickOpacity": {"condition": {"test": "datum.value == 0 || datum.value == 250 || datum.value == 750 || datum.value == 2500", "value": 0}, "value": 1},
          "tickSize": 6, "title": "Time (min)", "titleFontSize": 17.5, "titleX": 132.5, "titleY": 61, "titleBaseline": "alphabetic", "titleAlign": "center", "zindex": 0}},
      "y": {"field": "v", "type": "quantitative", "scale": {"domain": [0, 108.4], "nice": false, "zero": false},
        "axis": {"orient": "left", "offset": 13, "domain": true, "domainColor": "#bdbdbd", "domainWidth": 1.5, "labels": false, "ticks": false, "title": "Relative Intensity", "titleFontSize": 17.5, "titleX": -41, "titleY": 84, "titleBaseline": "alphabetic", "titleAlign": "center", "titleAngle": 270, "zindex": 0}},
      "color": {"field": "s", "type": "nominal", "scale": {"domain": ["ᴰPG-WW-1","ᴰPG-WW-1-CL"], "range": ["#3ee63e","#1414cc"]},
        "legend": {"orient": "none", "legendX": 48, "legendY": 11, "title": null, "symbolType": "M-1,-0.24H1V0.24H-1Z", "symbolSize": 625, "symbolStrokeWidth": 0, "symbolOpacity": 1, "labelFont": "Liberation Sans", "labelFontSize": 17, "labelColor": "#222222", "labelOffset": 10, "rowPadding": -2, "padding": 0}}
    }
   },
   {"data": {"values": [
{"s":"ᴰPG-WW-1-CL","t":5,"v":1.5},{"s":"ᴰPG-WW-1-CL","t":10,"v":2.6},{"s":"ᴰPG-WW-1-CL","t":15,"v":4.5},{"s":"ᴰPG-WW-1-CL","t":20,"v":6.2},{"s":"ᴰPG-WW-1-CL","t":25,"v":9.2},{"s":"ᴰPG-WW-1-CL","t":30,"v":11.0},{"s":"ᴰPG-WW-1-CL","t":45,"v":17.2},{"s":"ᴰPG-WW-1-CL","t":60,"v":26.9},{"s":"ᴰPG-WW-1-CL","t":250,"v":45.8},{"s":"ᴰPG-WW-1-CL","t":750,"v":49},{"s":"ᴰPG-WW-1-CL","t":2500,"v":98}
   ]},
    "mark": {"type": "bar", "width": 5, "xOffset": 2.5, "orient": "vertical"},
    "encoding": {
      "x": {"field": "t", "type": "quantitative", "scale": {"type": "linear", "domain": [-5, 0, 60, 250, 750, 2500, 2913], "range": [-13, -1, 143, 175.8, 193.5, 229.5, 238], "nice": false, "zero": false}, "axis": null},
      "y": {"field": "v", "type": "quantitative", "scale": {"domain": [0, 108.4], "nice": false, "zero": false}, "axis": null},
      "color": {"field": "s", "type": "nominal", "scale": {"domain": ["ᴰPG-WW-1","ᴰPG-WW-1-CL"], "range": ["#3ee63e","#1414cc"]}}
    }
   },
   {"data": {"values": [{"t":130,"t2":154,"v":105.4,"v2":111.4},{"t":130,"t2":154,"v":-3,"v2":3}]},
    "mark": {"type": "rect", "color": "#ffffff", "opacity": 1},
    "encoding": {
      "x": {"field": "t", "type": "quantitative", "scale": {"type": "linear", "domain": [-5, 0, 60, 250, 750, 2500, 2913], "range": [-13, -1, 143, 175.8, 193.5, 229.5, 238], "nice": false, "zero": false},
        "axis": {"orient": "top", "domain": true, "domainColor": "#bdbdbd", "domainWidth": 1.5, "labels": false, "ticks": false, "title": null, "zindex": 0}},
      "x2": {"field": "t2"},
      "y": {"field": "v", "type": "quantitative", "scale": {"domain": [0, 108.4], "nice": false, "zero": false},
        "axis": {"orient": "right", "domain": true, "domainColor": "#bdbdbd", "domainWidth": 1.5, "labels": false, "ticks": false, "title": null, "zindex": 0}},
      "y2": {"field": "v2"}
    }
   },
   {"data": {"values": [{"t":130,"v":104.6,"v2":112.2},{"t":154,"v":104.6,"v2":112.2},{"t":130,"v":-4,"v2":4},{"t":154,"v":-4,"v2":4}]},
    "mark": {"type": "rule", "color": "#a8a8a8", "strokeWidth": 1.5},
    "encoding": {
      "x": {"field": "t", "type": "quantitative", "scale": {"type": "linear", "domain": [-5, 0, 60, 250, 750, 2500, 2913], "range": [-13, -1, 143, 175.8, 193.5, 229.5, 238], "nice": false, "zero": false}, "axis": null},
      "y": {"field": "v", "type": "quantitative", "scale": {"domain": [0, 108.4], "nice": false, "zero": false}, "axis": null},
      "y2": {"field": "v2"}
    }
   },
   {"data": {"values": [{"t":-0.83,"v":120,"lab":"(e)"}]},
    "mark": {"type": "text", "color": "#222222", "align": "left", "baseline": "alphabetic"},
    "encoding": {
      "x": {"field": "t", "type": "quantitative", "scale": {"type": "linear", "domain": [-5, 0, 60, 250, 750, 2500, 2913], "range": [-13, -1, 143, 175.8, 193.5, 229.5, 238], "nice": false, "zero": false}, "axis": null},
      "y": {"field": "v", "type": "quantitative", "scale": {"domain": [0, 108.4], "nice": false, "zero": false}, "axis": null},
      "text": {"field": "lab"}
    }
   }
  ],
  "resolve": {"axis": {"x": "independent", "y": "independent"}}
 },
 {
  "width": 190, "height": 168,
  "encoding": {
    "x": {"field": "t", "type": "quantitative", "scale": {"domain": [-0.95, 12], "nice": false, "zero": false},
      "axis": {"values": [0,2,4,6,8,10,12], "labelFontSize": 17, "offset": 6, "tickSize": 5, "labelPadding": 8, "title": "Time (h)", "titleFontSize": 17.5, "titleX": 95, "titleY": 55.9, "titleBaseline": "alphabetic", "titleAlign": "center"}},
    "y": {"field": "v", "type": "quantitative", "scale": {"domain": [-0.102, 1.098], "nice": false, "zero": false},
      "axis": {"values": [0,0.2,0.4,0.6,0.8,1.0], "format": ".1f", "labelFontSize": 17, "offset": 2, "tickSize": 5, "labelPadding": 3, "title": "Normalized Data", "titleFontSize": 17.5, "titleX": -52, "titleY": 84, "titleBaseline": "alphabetic", "titleAlign": "center", "titleAngle": 270}}
  },
  "layer": [
   {"data": {"values": [
{"s":"g","t":0,"v":0},{"s":"g","t":0.1,"v":0.12},{"s":"g","t":0.25,"v":0.28},{"s":"g","t":0.5,"v":0.48},{"s":"g","t":0.75,"v":0.62},{"s":"g","t":1,"v":0.71},{"s":"g","t":1.5,"v":0.8},{"s":"g","t":2,"v":0.835},{"s":"g","t":3,"v":0.85},{"s":"g","t":10,"v":0.852},
{"s":"r","t":0,"v":0.08},{"s":"r","t":0.25,"v":0.25},{"s":"r","t":0.5,"v":0.37},{"s":"r","t":0.75,"v":0.44},{"s":"r","t":1,"v":0.475},{"s":"r","t":2,"v":0.52},{"s":"r","t":4,"v":0.555},{"s":"r","t":6,"v":0.568},{"s":"r","t":8,"v":0.572},{"s":"r","t":10,"v":0.573},
{"s":"o","t":0,"v":0.08},{"s":"o","t":0.25,"v":0.26},{"s":"o","t":0.5,"v":0.38},{"s":"o","t":0.75,"v":0.45},{"s":"o","t":1,"v":0.48},{"s":"o","t":2,"v":0.52},{"s":"o","t":4,"v":0.56},{"s":"o","t":6,"v":0.585},{"s":"o","t":8,"v":0.61},{"s":"o","t":10,"v":0.635},
{"s":"y","t":0.1,"v":-0.03},{"s":"y","t":0.3,"v":-0.06},{"s":"y","t":0.6,"v":-0.05},{"s":"y","t":1,"v":-0.02},{"s":"y","t":2,"v":0.045},{"s":"y","t":4,"v":0.17},{"s":"y","t":6,"v":0.29},{"s":"y","t":8,"v":0.395},{"s":"y","t":10,"v":0.49}
   ]},
    "mark": {"type": "line", "color": "#b4b4b4", "strokeWidth": 1.2},
    "encoding": {"detail": {"field": "s", "type": "nominal"}}
   },
   {"data": {"values": [
{"s":"a_tri","t":0.083,"v":-0.04},{"s":"a_tri","t":0.167,"v":-0.065},{"s":"a_tri","t":0.25,"v":-0.075},{"s":"a_tri","t":0.5,"v":-0.05},{"s":"a_tri","t":0.75,"v":-0.035},{"s":"a_tri","t":1,"v":-0.02},{"s":"a_tri","t":2,"v":0.05},{"s":"a_tri","t":4,"v":0.19},{"s":"a_tri","t":6,"v":0.28},{"s":"a_tri","t":8,"v":0.41},{"s":"a_tri","t":10,"v":0.48},
{"s":"b_circ","t":0.083,"v":0.13},{"s":"b_circ","t":0.167,"v":0.2},{"s":"b_circ","t":0.25,"v":0.27},{"s":"b_circ","t":0.33,"v":0.33},{"s":"b_circ","t":0.5,"v":0.39},{"s":"b_circ","t":0.75,"v":0.44},{"s":"b_circ","t":1,"v":0.45},{"s":"b_circ","t":2,"v":0.5},{"s":"b_circ","t":4,"v":0.555},{"s":"b_circ","t":6,"v":0.625},{"s":"b_circ","t":8,"v":0.56},{"s":"b_circ","t":10,"v":0.57},
{"s":"c_sq","t":0,"v":0.1},{"s":"c_sq","t":0.083,"v":0.12},{"s":"c_sq","t":0.167,"v":0.2},{"s":"c_sq","t":0.25,"v":0.26},{"s":"c_sq","t":0.33,"v":0.32},{"s":"c_sq","t":0.5,"v":0.36},{"s":"c_sq","t":0.75,"v":0.41},{"s":"c_sq","t":1,"v":0.48},{"s":"c_sq","t":2,"v":0.52},{"s":"c_sq","t":4,"v":0.58},{"s":"c_sq","t":6,"v":0.585},{"s":"c_sq","t":8,"v":0.605},{"s":"c_sq","t":10,"v":0.64},
{"s":"d_dia","t":0,"v":0},{"s":"d_dia","t":0.083,"v":0.155},{"s":"d_dia","t":0.167,"v":0.23},{"s":"d_dia","t":0.25,"v":0.3},{"s":"d_dia","t":0.33,"v":0.36},{"s":"d_dia","t":0.5,"v":0.48},{"s":"d_dia","t":0.75,"v":0.61},{"s":"d_dia","t":1,"v":0.67},{"s":"d_dia","t":2,"v":0.83},{"s":"d_dia","t":4,"v":0.845},{"s":"d_dia","t":6,"v":0.855},{"s":"d_dia","t":8,"v":0.83},{"s":"d_dia","t":10,"v":1.0}
   ]},
    "mark": {"type": "point", "filled": true, "size": 75, "opacity": 1},
    "encoding": {
      "shape": {"field": "s", "type": "nominal", "legend": null, "scale": {"domain": ["a_tri","b_circ","c_sq","d_dia"], "range": ["triangle-down","circle","square","diamond"]}},
      "color": {"field": "s", "type": "nominal", "legend": null, "scale": {"domain": ["a_tri","b_circ","c_sq","d_dia"], "range": ["#f0a23c","#9b1414","#c4c42a","#1f8f1f"]}}
    }
   },
   {"data": {"values": [{"t":-3.68,"v":1.241,"lab":"(f)"}]},
    "mark": {"type": "text", "color": "#222222", "align": "left", "baseline": "alphabetic"}, "encoding": {"text": {"field": "lab"}}}
  ]
 }
], "spacing": 109, "bounds": "flush", "resolve": {"scale": {"color": "independent", "shape": "independent"}}}
]
}
